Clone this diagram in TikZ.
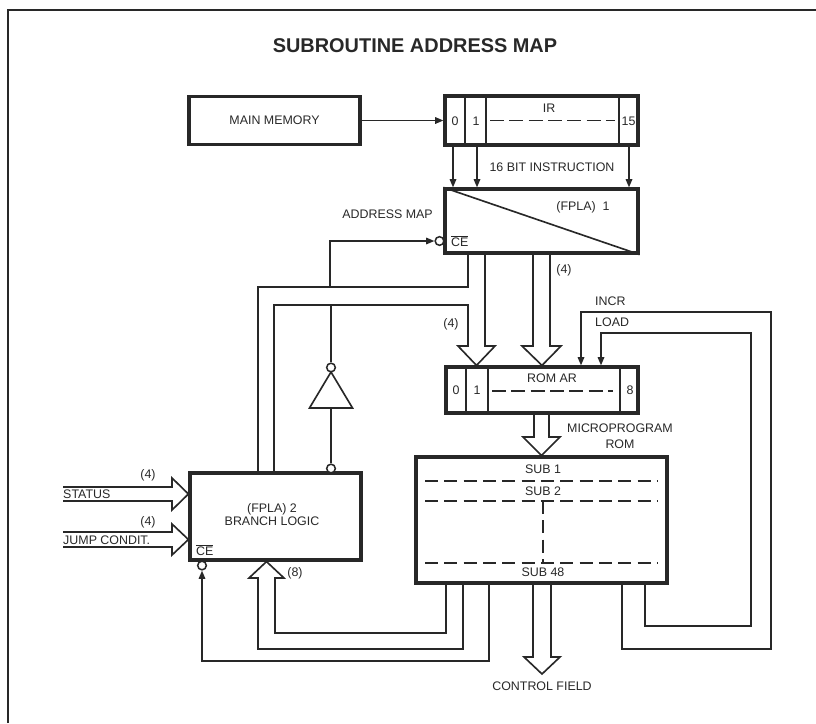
\documentclass[tikz,border=0pt]{standalone}
\usepackage{fontspec}
\setmainfont{Liberation Sans}
\usepackage{tikz}
\usetikzlibrary{arrows.meta}
\definecolor{ink}{RGB}{40,40,40}

\begin{document}
\begin{tikzpicture}[x=0.03cm, y=-0.03cm, >={Triangle[length=7pt,width=5.5pt]},
  every node/.style={font=\fontsize{10.6}{11}\selectfont, text=ink},
  box/.style={draw=ink, line width=2.7pt, inner sep=0pt},
  wire/.style={draw=ink, line width=1.4pt},
  bubble/.style={circle, draw=ink, line width=1.3pt, fill=white, inner sep=0pt, minimum size=0.26cm},
  sublines/.style={wire, dash pattern=on 11pt off 5.5pt},
  regdash/.style={wire, dash pattern=on 12pt off 4.5pt}]
\useasboundingbox (0,0) rectangle (816,723);
\draw[wire] (8,723) -- (8,10) -- (816,10);
\node[font=\fontsize{17}{20}\selectfont\bfseries] (title) at (415,46) {SUBROUTINE ADDRESS MAP};

\node[box, minimum width=5.13cm, minimum height=1.44cm] (mainmem) at (274.5,120.5) {MAIN MEMORY};
\node[box, minimum width=5.79cm, minimum height=1.47cm] (ir) at (541.5,120.5) {};
\node[box, minimum width=5.79cm, minimum height=1.92cm] (fpla1) at (541.5,221) {};
\node[box, minimum width=5.76cm, minimum height=1.38cm] (romar) at (542,390) {};
\node[box, minimum width=7.53cm, minimum height=3.78cm] (rom) at (541.5,520) {};
\node[box, minimum width=5.13cm, minimum height=2.61cm] (fpla2) at (275.5,516.5) {};
\node[align=center] (fplatwo) at (272,514.5) {(FPLA) 2\\BRANCH LOGIC};

\foreach \x in {465,486,619}{\draw[wire] (\x,0 |- ir.north) -- (\x,0 |- ir.south);}
\node (ir0) at (455,121) {0};
\node (ir1) at (476,121) {1};
\node (ir15) at (628.5,121) {15};
\node (irlab) at (549,108) {IR};
\draw[regdash] (490,120.5) -- (615,120.5);
\draw[wire,->] (mainmem) -- (ir);
\foreach \x in {453,477,629}{\draw[wire,->] (\x,0 |- ir.south) -- (\x,0 |- fpla1.north);}
\node (instr) at (552,167) {16 BIT INSTRUCTION};

\draw[wire] (fpla1.north west) -- (fpla1.south east);
\node (fplaone) at (583,207) {(FPLA)\ \ 1};
\node[anchor=west, inner sep=0pt] (ceone) at (451,241) {$\overline{\mbox{CE}}$};
\node[anchor=east, inner sep=0pt] (addrmap) at (433,214) {ADDRESS MAP};
\node[bubble] (bub1) at (439.5,241) {};
\draw[wire,->] (330,287) -- (330,241) -- (bub1);

\draw[wire] (258,0 |- fpla2.north) -- (258,287) -- (468,287) -- (468,0 |- fpla1.south);
\draw[wire] (274,0 |- fpla2.north) -- (274,305) -- (468,305) -- (468,346) -- (458,346) -- (476.5,0 |- romar.north) -- (495,346) -- (485,346) -- (485,0 |- fpla1.south);
\draw[wire] (533,0 |- fpla1.south) -- (533,346) -- (522,346) -- (romar.north) -- (561,346) -- (550,346) -- (550,0 |- fpla1.south);
\node (f4a) at (451,324) {(4)};
\node (f4b) at (564,270) {(4)};

\node[bubble] (bub2) at (331,367.5) {};
\node[bubble] (bub3) at (331,468.5) {};
\draw[wire] (331,305) -- (bub2);
\draw[wire, line join=miter] (331,372) -- (352.5,408) -- (309.5,408) -- cycle;
\draw[wire] (331,408) -- (bub3);

\foreach \x in {466,488,620}{\draw[wire] (\x,0 |- romar.north) -- (\x,0 |- romar.south);}
\node (ar0) at (456,390) {0};
\node (ar1) at (477,390) {1};
\node (ar8) at (630,390) {8};
\node (arlab) at (552,378) {ROM AR};
\draw[regdash] (492,391) -- (613,391);

\node[anchor=west, inner sep=0pt] (incr) at (595,301) {INCR};
\node[anchor=west, inner sep=0pt] (load) at (595,322) {LOAD};
\draw[wire,->] (622,0 |- rom.south) -- (622,649) -- (771,649) -- (771,312) -- (581,312) -- (581,0 |- romar.north);
\draw[wire,->] (645,0 |- rom.south) -- (645,626) -- (751,626) -- (751,333) -- (601,333) -- (601,0 |- romar.north);

\draw[wire] (534,0 |- romar.south) -- (534,437) -- (523,437) -- (rom.north) -- (560,437) -- (549,437) -- (549,0 |- romar.south);
\node[align=center, font=\fontsize{10.6}{13.6}\selectfont] (mprom) at (620,436) {MICROPROGRAM\\ROM};

\node (sub1) at (543,469) {SUB 1};
\node (sub2) at (543,491) {SUB 2};
\node (sub48) at (543,572) {SUB 48};
\foreach \y in {481,501,563}{\draw[sublines] (425,\y) -- (657,\y);}
\draw[sublines] (543,501) -- (543,563);

\coordinate (cftip) at (542,674);
\draw[wire] (533,0 |- rom.south) -- (533,657) -- (524,657) -- (cftip) -- (560,657) -- (551,657) -- (551,0 |- rom.south);
\node (cf) at (542,686) {CONTROL FIELD};

\node[anchor=west, inner sep=0pt] (cetwo) at (196,550) {$\overline{\mbox{CE}}$};
\node[bubble] (bub4) at (202,565.5) {};
\draw[wire,->] (489,0 |- rom.south) -- (489,661) -- (202,661) -- (bub4);
\draw[wire] (463,0 |- rom.south) -- (463,649) -- (258,649) -- (258,578) -- (249,578) -- (266.5,0 |- fpla2.south) -- (284,578) -- (275,578) -- (275,633) -- (446,633) -- (446,0 |- rom.south);
\node (b8) at (295,573) {(8)};

\draw[wire] (63,487) -- (172,487) -- (172,478) -- (fpla2.west |- 0,494) -- (172,510) -- (172,501) -- (63,501);
\draw[wire] (63,532) -- (172,532) -- (172,524) -- (fpla2.west |- 0,539.5) -- (172,555) -- (172,547) -- (63,547);
\node[anchor=west, inner sep=0pt] (status) at (63,494) {STATUS};
\node[anchor=west, inner sep=0pt] (jump) at (63,540) {JUMP CONDIT.};
\node (st4) at (148,475) {(4)};
\node (jc4) at (148,522) {(4)};
\end{tikzpicture}
\end{document}
